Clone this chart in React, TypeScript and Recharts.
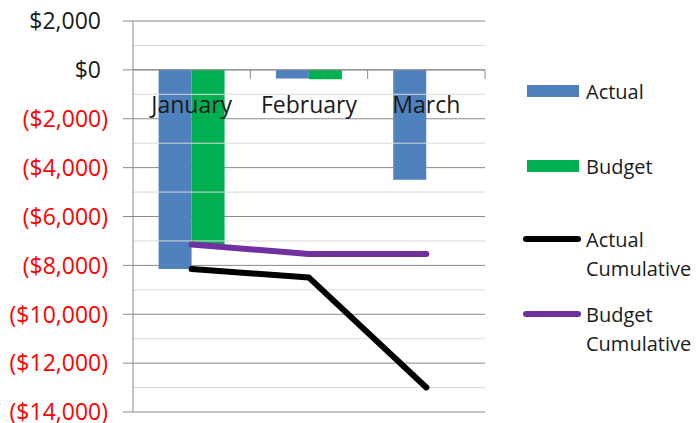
import React from "react";
import {
  ComposedChart,
  Bar,
  Line,
  XAxis,
  YAxis,
  CartesianGrid,
  ReferenceLine,
} from "recharts";

const months = ["January", "February", "March"];
const actual = [-8150, -350, -4500];
const budget = [-7150, -380, 0];
const actualCumulative = [-8150, -8500, -13000];
const budgetCumulative = [-7150, -7530, -7530];

const majorTicks = [2000, 0, -2000, -4000, -6000, -8000, -10000, -12000, -14000];
const minorTicks = [1000, -1000, -3000, -5000, -7000, -9000, -11000, -13000];

const data = months.map((month, i) => ({
  month,
  actual: actual[i],
  budget: budget[i],
  actualCum: actualCumulative[i],
  budgetCum: budgetCumulative[i],
}));

const FONT = "'Open Sans', sans-serif";
const AXIS_GRAY = "#8a8a8a";
const MINOR_GRAY = "#d9d9d9";

const COLORS = {
  actual: "#4F81BD",
  budget: "#00B050",
  actualCum: "#000000",
  budgetCum: "#7030A0",
};

const YTick = (props: any) => {
  const { x, y, payload } = props;
  const v = payload.value as number;
  const neg = v < 0;
  const text = neg
    ? `($${Math.abs(v).toLocaleString("en-US")})`
    : `$${v.toLocaleString("en-US")}`;
  return (
    <text
      x={neg ? x - 15 : x - 22}
      y={y}
      dy="0.36em"
      textAnchor="end"
      fontFamily={FONT}
      fontSize={23}
      fill={neg ? "#ff0000" : "#1a1a1a"}
    >
      {text}
    </text>
  );
};

// category names + tick marks drawn along the zero line
const CategoryLabels = (props: any) => {
  const { viewBox } = props;
  if (!viewBox) return null;
  const { x, y, width } = viewBox;
  const step = width / months.length;
  return (
    <g>
      {months.map((m, i) => (
        <g key={m}>
          <line
            x1={x + (i + 1) * step}
            y1={y}
            x2={x + (i + 1) * step}
            y2={y + 9}
            stroke={AXIS_GRAY}
          />
          <text
            x={x + (i + 0.5) * step}
            y={y + 43}
            textAnchor="middle"
            fontFamily={FONT}
            fontSize={23}
            fill="#1a1a1a"
          >
            {m}
          </text>
        </g>
      ))}
    </g>
  );
};

const legendItems = [
  { label: ["Actual"], color: COLORS.actual, kind: "bar", cy: 91 },
  { label: ["Budget"], color: COLORS.budget, kind: "bar", cy: 166 },
  { label: ["Actual", "Cumulative"], color: COLORS.actualCum, kind: "line", cy: 239 },
  { label: ["Budget", "Cumulative"], color: COLORS.budgetCum, kind: "line", cy: 314 },
];

const ChartLegend = () => (
  <>
    {legendItems.map((item) => (
      <React.Fragment key={item.label.join(" ")}>
        {item.kind === "bar" ? (
          <div
            style={{
              position: "absolute",
              left: 527,
              top: item.cy - 6,
              width: 52,
              height: 12,
              backgroundColor: item.color,
            }}
          />
        ) : (
          <div
            style={{
              position: "absolute",
              left: 523,
              top: item.cy - 3,
              width: 58,
              height: 6,
              borderRadius: 3,
              backgroundColor: item.color,
            }}
          />
        )}
        <div
          style={{
            position: "absolute",
            left: 586,
            top: item.cy - 14.5,
            fontFamily: FONT,
            fontSize: 20,
            lineHeight: "29px",
            color: "#1a1a1a",
            whiteSpace: "nowrap",
          }}
        >
          {item.label.map((l) => (
            <div key={l}>{l}</div>
          ))}
        </div>
      </React.Fragment>
    ))}
  </>
);

export default function App() {
  return (
    <div style={{ position: "relative", width: 696, height: 423, background: "#fff" }}>
      <style>{"body{margin:0}"}</style>
      <ComposedChart
        width={696}
        height={423}
        data={data}
        margin={{ top: 21, right: 211, bottom: 11, left: 0 }}
        barCategoryGap="21.8%"
        barGap={0}
      >
        <XAxis dataKey="month" hide />
        <YAxis
          domain={[-14000, 2000]}
          ticks={majorTicks}
          interval={0}
          width={133}
          tickSize={10}
          tickMargin={0}
          axisLine={{ stroke: AXIS_GRAY }}
          tickLine={{ stroke: AXIS_GRAY }}
          tick={<YTick />}
        />
        {minorTicks.map((t) => (
          <ReferenceLine key={t} y={t} stroke={MINOR_GRAY} />
        ))}
        <CartesianGrid vertical={false} stroke={AXIS_GRAY} />
        <Bar dataKey="actual" name="Actual" fill={COLORS.actual} isAnimationActive={false} />
        <Bar dataKey="budget" name="Budget" fill={COLORS.budget} isAnimationActive={false} />
        <ReferenceLine y={0} stroke={AXIS_GRAY} label={<CategoryLabels />} />
        <Line
          dataKey="actualCum"
          name="Actual Cumulative"
          stroke={COLORS.actualCum}
          strokeWidth={6}
          strokeLinecap="round"
          strokeLinejoin="round"
          dot={false}
          isAnimationActive={false}
        />
        <Line
          dataKey="budgetCum"
          name="Budget Cumulative"
          stroke={COLORS.budgetCum}
          strokeWidth={6}
          strokeLinecap="round"
          strokeLinejoin="round"
          dot={false}
          isAnimationActive={false}
        />
      </ComposedChart>
      <ChartLegend />
    </div>
  );
}
